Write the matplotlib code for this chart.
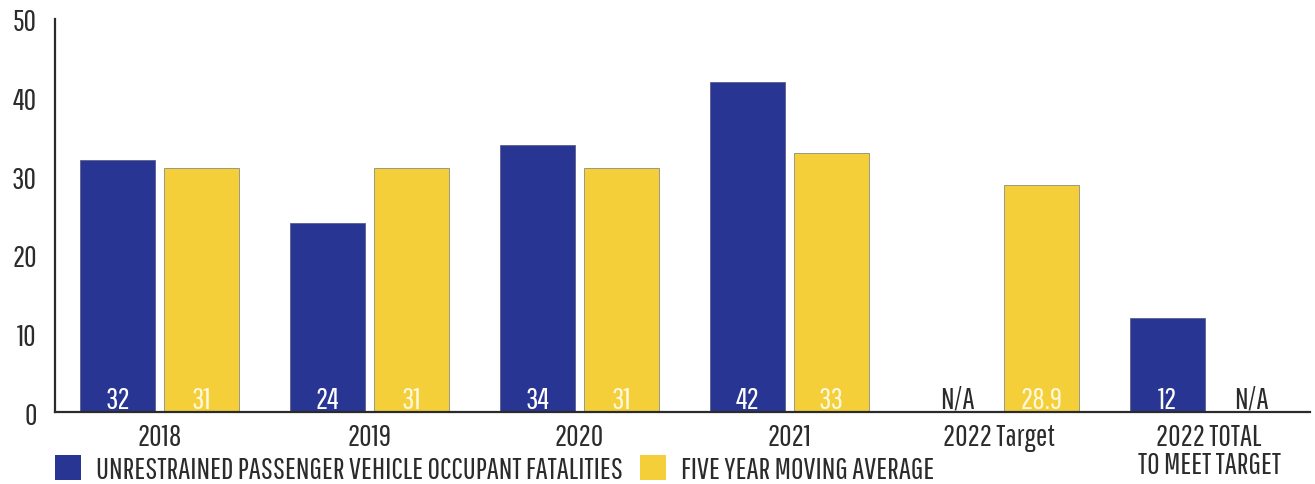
import matplotlib
matplotlib.use("Agg")
import matplotlib.pyplot as plt
import numpy as np
from matplotlib.patches import Patch

categories = ["2018", "2019", "2020", "2021", "2022 Target", "2022 TOTAL\nTO MEET TARGET"]
fatalities = [32, 24, 34, 42, np.nan, 12]
moving_avg = [31, 31, 31, 33, 28.9, np.nan]
fatality_labels = ["32", "24", "34", "42", "N/A", "12"]
avg_labels = ["31", "31", "31", "33", "28.9", "N/A"]
series_names = ["UNRESTRAINED PASSENGER VEHICLE OCCUPANT FATALITIES", "FIVE YEAR MOVING AVERAGE"]
yticks = [0, 10, 20, 30, 40, 50]

BLUE = "#283593"
YELLOW = "#F4CF3A"
DARK = "#2b2b2b"
plt.rcParams['font.family'] = ['Pathway Gothic One', 'DejaVu Sans']
FS = 22

fig = plt.figure(figsize=(13.15, 4.85), dpi=100)
ax = fig.add_axes([0.0418, 0.148, 0.9542, 0.811])

x = np.arange(len(categories))
w = 0.357
off = 0.2
ax.bar(x - off, fatalities, w, color=BLUE, edgecolor="#5a5f8a", linewidth=0.6)
ax.bar(x + off, moving_avg, w, color=YELLOW, edgecolor="#8a8a80", linewidth=0.6)

for i in range(len(categories)):
    for dx, lab, val in ((-off, fatality_labels[i], fatalities[i]), (off, avg_labels[i], moving_avg[i])):
        color = DARK if np.isnan(val) else ("white" if dx < 0 else "#FFF8DC")
        ax.text(x[i] + dx, 0.55, lab, ha="center", va="baseline", fontsize=FS, color=color)

ax.set_xlim(-0.5, 5.48)
ax.set_ylim(0, 50)
ax.set_yticks(yticks)
ax.set_xticks(x)
ax.set_xticklabels(categories, fontsize=FS, color=DARK, linespacing=0.95)
ax.tick_params(axis="both", length=0, labelsize=FS, colors=DARK)
ax.tick_params(axis="y", pad=13)
ax.tick_params(axis="x", pad=7)
for s in ("top", "right"):
    ax.spines[s].set_visible(False)
for s in ("left", "bottom"):
    ax.spines[s].set_color(DARK)
    ax.spines[s].set_linewidth(1.6)

handles = [Patch(facecolor=BLUE), Patch(facecolor=YELLOW)]
fig.legend(handles, series_names, loc="lower left", bbox_to_anchor=(55 / 1315, 0.0), ncol=2,
           frameon=False, fontsize=FS, handlelength=0.85, handleheight=0.9,
           handletextpad=0.5, columnspacing=0.55, labelcolor=DARK,
           borderpad=0, borderaxespad=0)

fig.savefig("out.png", dpi=100)
